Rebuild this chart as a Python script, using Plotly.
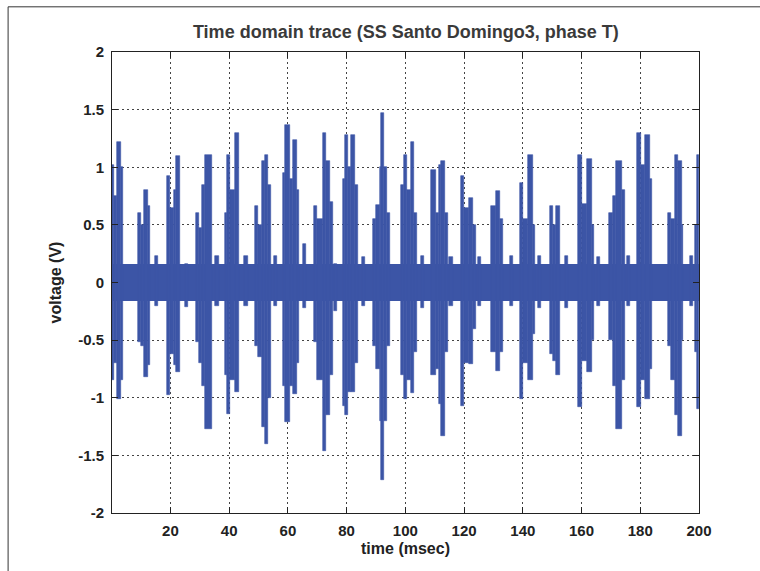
import plotly.graph_objects as go

# ---- data ----
TIME_RANGE = [0.1, 200.0]
X_TICKS = [20, 40, 60, 80, 100, 120, 140, 160, 180, 200]
Y_TICKS = [-2, -1.5, -1, -0.5, 0, 0.5, 1, 1.5, 2]
Y_TICK_TEXT = ["-2", "-1.5", "-1", "-0.5", "0", "0.5", "1", "1.5", "2"]

# background noise band (V)
NOISE_UP = 0.16
NOISE_LO = -0.16

# envelope segments of the discharge bursts: start (ms), end (ms), max (V), min (V)
SEG_START = [0.1, 0.7, 1.9, 3.1,
             8.8, 10.0, 11.1, 12.2, 14.7,
             18.7, 19.8, 21.1, 22.0, 24.8,
             28.6, 29.6, 30.6, 31.8, 35.3,
             38.6, 39.2, 40.4, 42.0, 45.2,
             48.7, 49.9, 51.2, 52.2, 53.2, 55.1,
             58.3, 59.1, 60.8, 61.8, 63.1, 65.3,
             68.9, 70.0, 71.9, 73.0, 74.4, 75.7,
             78.8, 79.6, 80.4, 81.6, 82.8, 85.2,
             89.0, 90.1, 91.2, 91.8, 92.6, 93.8,
             98.6, 99.4, 100.4, 101.8, 103.0, 105.3,
             108.8, 110.3, 111.4, 112.2, 113.4, 115.0,
             119.0, 120.1, 121.6, 123.1, 124.6,
             129.2, 130.7, 132.2, 135.5,
             139.0, 140.1, 141.8, 143.3, 145.2,
             149.2, 150.4, 151.2, 154.3,
             158.9, 160.2, 161.8, 163.5, 165.3,
             169.2, 170.6, 171.6, 173.8, 175.4,
             178.8, 180.4, 181.5, 183.2,
             189.3, 190.6, 191.7, 192.8, 194.1, 197.0,
             198.7, 199.3]
SEG_END = [0.7, 1.9, 3.1, 3.9,
           10.0, 11.1, 12.2, 13.2, 15.8,
           19.8, 21.1, 22.0, 23.2, 25.9,
           29.6, 30.6, 31.8, 34.0, 36.4,
           39.2, 40.4, 42.0, 43.2, 46.4,
           49.9, 51.2, 52.2, 53.2, 54.2, 56.3,
           59.1, 60.8, 61.8, 63.1, 63.9, 66.3,
           70.0, 71.9, 73.0, 74.4, 75.2, 76.8,
           79.6, 80.4, 81.6, 82.8, 83.8, 86.4,
           90.1, 91.2, 91.8, 92.6, 93.8, 94.6,
           99.4, 100.4, 101.8, 103.0, 103.9, 106.5,
           110.3, 111.4, 112.2, 113.4, 114.4, 116.1,
           120.1, 121.6, 123.1, 123.9, 125.8,
           130.7, 132.2, 133.1, 136.7,
           140.1, 141.8, 143.3, 144.0, 146.3,
           150.4, 151.2, 152.8, 155.4,
           160.2, 161.8, 163.5, 164.1, 166.4,
           170.6, 171.6, 173.8, 174.8, 176.6,
           180.4, 181.5, 183.2, 183.9,
           190.6, 191.7, 192.8, 194.1, 194.7, 198.1,
           199.3, 200.0]
SEG_MAX = [1.02, 0.75, 1.22, 1.00,
           0.60, 0.50, 0.80, 0.66, 0.23,
           0.92, 0.65, 0.80, 1.10, 0.16,
           0.60, 0.47, 0.85, 1.11, 0.23,
           0.60, 1.11, 0.80, 1.30, 0.23,
           0.66, 0.50, 1.05, 1.11, 0.85, 0.23,
           0.95, 1.37, 0.90, 1.24, 0.80, 0.33,
           0.66, 0.55, 1.30, 1.05, 0.70, 0.16,
           0.90, 1.28, 1.00, 1.28, 0.85, 0.22,
           0.55, 0.67, 1.00, 1.47, 1.00, 0.60,
           0.85, 1.11, 0.80, 1.22, 0.60, 0.23,
           0.98, 0.60, 1.02, 1.05, 0.60, 0.22,
           0.92, 0.65, 0.73, 0.50, 0.22,
           0.66, 0.79, 0.55, 0.23,
           0.86, 0.55, 1.11, 0.50, 0.23,
           0.66, 0.50, 0.66, 0.23,
           1.11, 0.68, 1.07, 0.50, 0.22,
           0.60, 0.75, 1.05, 0.80, 0.23,
           1.30, 1.02, 1.28, 0.90,
           0.60, 0.55, 1.11, 1.05, 0.50, 0.23,
           0.50, 1.11]
SEG_MIN = [-0.85, -0.70, -1.01, -0.85,
           -0.52, -0.55, -0.82, -0.72, -0.20,
           -0.98, -0.62, -0.72, -0.78, -0.21,
           -0.52, -0.70, -0.90, -1.27, -0.20,
           -0.80, -1.14, -0.85, -0.95, -0.20,
           -0.55, -0.65, -1.25, -1.40, -1.00, -0.20,
           -0.90, -1.21, -0.90, -0.97, -0.70, -0.22,
           -0.52, -0.85, -1.46, -1.15, -0.80, -0.25,
           -1.07, -1.15, -0.95, -0.95, -0.70, -0.20,
           -0.55, -0.75, -1.20, -1.71, -1.20, -0.55,
           -0.80, -1.01, -0.85, -0.96, -0.60, -0.22,
           -0.80, -0.75, -1.05, -1.33, -0.60, -0.20,
           -1.07, -0.70, -0.71, -0.40, -0.20,
           -0.60, -0.77, -0.60, -0.20,
           -1.01, -0.70, -0.85, -0.45, -0.22,
           -0.62, -0.68, -0.80, -0.22,
           -1.08, -0.68, -0.78, -0.50, -0.20,
           -0.50, -0.90, -1.27, -0.85, -0.20,
           -1.08, -0.85, -1.01, -0.75,
           -0.55, -0.85, -1.15, -1.33, -0.50, -0.20,
           -0.60, -1.10]

BLUE = "#3c55a6"
FONT = "Liberation Sans, Arial, sans-serif"

# each envelope segment becomes a solid block from its min to its max
seg_x = [(s + e) / 2 for s, e in zip(SEG_START, SEG_END)]
seg_w = [e - s for s, e in zip(SEG_START, SEG_END)]
seg_h = [hi - lo for hi, lo in zip(SEG_MAX, SEG_MIN)]

fig = go.Figure()
# continuous noise band
fig.add_trace(go.Bar(
    x=[(TIME_RANGE[0] + TIME_RANGE[1]) / 2], width=[TIME_RANGE[1] - TIME_RANGE[0]],
    base=[NOISE_LO], y=[NOISE_UP - NOISE_LO],
    marker=dict(color=BLUE, line=dict(width=0)), hoverinfo="skip", showlegend=False,
))
# bursts
fig.add_trace(go.Bar(
    x=seg_x, width=seg_w, base=SEG_MIN, y=seg_h,
    marker=dict(color=BLUE, line=dict(color=BLUE, width=0.6)),
    hoverinfo="skip", showlegend=False,
))

axis_common = dict(
    showline=True, linecolor="#222", linewidth=1, mirror="ticks",
    ticks="inside", ticklen=6, tickcolor="#222",
    showgrid=True, gridcolor="#444", gridwidth=1, griddash="2px,3px",
    zeroline=False,
    tickfont=dict(family=FONT, size=15, color="#222", weight="bold"),
)

fig.update_xaxes(
    range=TIME_RANGE, tickvals=X_TICKS,
    title=dict(text="time (msec)", font=dict(family=FONT, size=16, color="#222", weight="bold"), standoff=4),
    ticklabelstandoff=4,
    **axis_common,
)
fig.update_yaxes(
    range=[-2, 2], tickvals=Y_TICKS, ticktext=Y_TICK_TEXT,
    title=dict(text="voltage (V)", font=dict(family=FONT, size=16, color="#222", weight="bold"), standoff=12),
    ticklabelstandoff=4,
    **axis_common,
)

fig.update_layout(
    width=760, height=571,
    margin=dict(l=112, r=61, t=52, b=58),
    paper_bgcolor="white", plot_bgcolor="white",
    barmode="overlay", bargap=0,
    title=dict(text="Time domain trace (SS Santo Domingo3, phase T)",
               font=dict(family=FONT, size=18, color="#3a3a3a", weight="bold"),
               x=0.534, xanchor="center", y=0.945, yanchor="middle"),
    shapes=[dict(type="line", xref="paper", yref="paper", x0=-0.177, x1=-0.177, y0=1.098, y1=-0.3,
                 line=dict(color="#333", width=1)),
            dict(type="line", xref="paper", yref="paper", x0=-0.177, x1=1.2, y0=1.098, y1=1.098,
                 line=dict(color="#333", width=1))],
)

fig.write_html("out.html")
